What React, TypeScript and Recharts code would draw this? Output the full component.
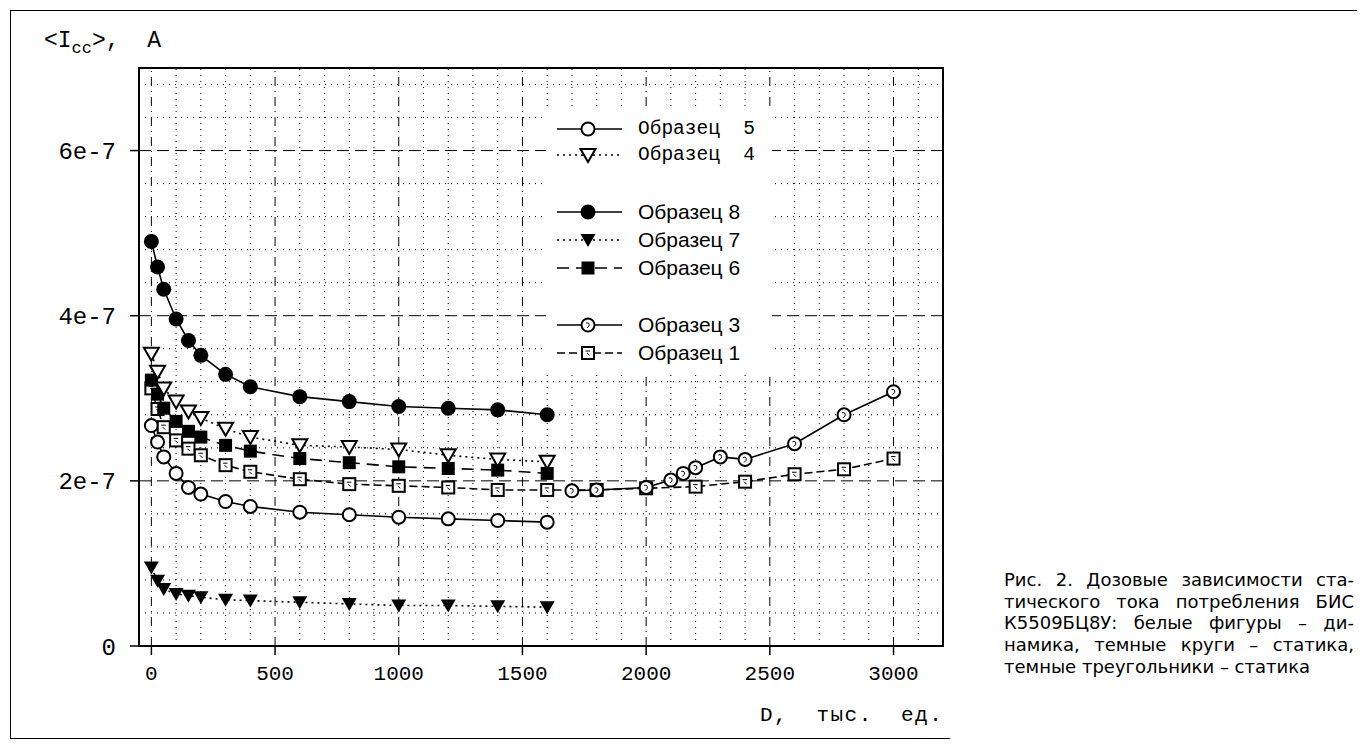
import React from "react";
import { LineChart, Line, XAxis, YAxis, ReferenceLine, ReferenceArea } from "recharts";

// dose, thousand units
const DOSE = [0, 25, 50, 100, 150, 200, 300, 400, 600, 800, 1000, 1200, 1400, 1600];
const DOSE_S1 = [0, 25, 50, 100, 150, 200, 300, 400, 600, 800, 1000, 1200, 1400, 1600, 1800, 2000, 2200, 2400, 2600, 2800, 3000];
const DOSE_S3 = [1700, 1800, 2000, 2100, 2150, 2200, 2300, 2400, 2600, 2800, 3000];

// <Icc>, x1e-7 A
const S5 = [2.67, 2.47, 2.29, 2.09, 1.92, 1.84, 1.75, 1.69, 1.62, 1.59, 1.56, 1.54, 1.52, 1.5];
const S4 = [3.54, 3.32, 3.12, 2.96, 2.84, 2.76, 2.63, 2.53, 2.43, 2.41, 2.38, 2.31, 2.26, 2.23];
const S8 = [4.9, 4.59, 4.32, 3.96, 3.7, 3.52, 3.29, 3.14, 3.02, 2.96, 2.9, 2.88, 2.86, 2.8];
const S7 = [0.95, 0.79, 0.69, 0.63, 0.61, 0.59, 0.56, 0.55, 0.53, 0.51, 0.49, 0.49, 0.48, 0.47];
const S6 = [3.22, 3.05, 2.88, 2.72, 2.6, 2.53, 2.43, 2.36, 2.27, 2.22, 2.17, 2.15, 2.13, 2.09];
const S3 = [1.88, 1.89, 1.92, 2.01, 2.09, 2.16, 2.29, 2.26, 2.45, 2.8, 3.08];
const S1 = [3.12, 2.87, 2.65, 2.49, 2.39, 2.31, 2.19, 2.11, 2.02, 1.96, 1.94, 1.92, 1.89, 1.89, 1.89, 1.91, 1.93, 1.99, 2.08, 2.14, 2.27];

const X_TICKS = [0, 500, 1000, 1500, 2000, 2500, 3000];
const Y_TICKS = [0, 2, 4, 6];
const X_MINOR = Array.from({ length: 31 }, (_, i) => (i + 1) * 100).filter((v) => v % 500 !== 0);
const Y_MINOR = Array.from({ length: 17 }, (_, i) => Math.round((i + 1) * 4) / 10).filter((v) => v % 2 !== 0);

const LEGEND = [
  { key: "s5", label: "Образец  5", mono: true, dash: undefined, top: 109 },
  { key: "s4", label: "Образец  4", mono: true, dash: "2 4", top: 135 },
  { key: "s8", label: "Образец 8", mono: false, dash: undefined, top: 192 },
  { key: "s7", label: "Образец 7", mono: false, dash: "2 4", top: 220 },
  { key: "s6", label: "Образец 6", mono: false, dash: "12 7", top: 248 },
  { key: "s3", label: "Образец 3", mono: false, dash: undefined, top: 305 },
  { key: "s1", label: "Образец 1", mono: false, dash: "8 4", top: 333 },
];

const CAPTION = [
  "Рис. 2. Дозовые зависимости ста-",
  "тического тока потребления БИС",
  "К5509БЦ8У: белые фигуры – ди-",
  "намика, темные круги – статика,",
  "темные треугольники – статика",
];

const zip = (xs: number[], ys: number[]) => xs.map((x, i) => ({ x, y: ys[i] }));

function marker(kind: string, cx: number, cy: number, key?: React.Key) {
  switch (kind) {
    case "s5":
      return <circle key={key} cx={cx} cy={cy} r={6.5} fill="#fff" stroke="#000" strokeWidth={2} />;
    case "s4":
      return (
        <path key={key} d={`M${cx - 7.5},${cy - 6} L${cx + 7.5},${cy - 6} L${cx},${cy + 7} Z`} fill="#fff" stroke="#000" strokeWidth={2} />
      );
    case "s8":
      return <circle key={key} cx={cx} cy={cy} r={7.5} fill="#000" />;
    case "s7":
      return <path key={key} d={`M${cx - 7.5},${cy - 6} L${cx + 7.5},${cy - 6} L${cx},${cy + 7} Z`} fill="#000" />;
    case "s6":
      return <rect key={key} x={cx - 6.5} y={cy - 6.5} width={13} height={13} fill="#000" />;
    case "s3":
      return (
        <g key={key}>
          <circle cx={cx} cy={cy} r={6.5} fill="#fff" stroke="#000" strokeWidth={2} />
          <path d={`M${cx - 2},${cy - 2} Q${cx + 2},${cy - 3} ${cx + 1},${cy + 1} L${cx - 1},${cy + 3}`} fill="none" stroke="#000" strokeWidth={1} />
        </g>
      );
    default:
      return (
        <g key={key}>
          <rect x={cx - 6} y={cy - 6} width={12} height={12} fill="#fff" stroke="#000" strokeWidth={2} />
          <path d={`M${cx - 2.5},${cy - 2} L${cx + 2},${cy - 2} M${cx - 1},${cy} L${cx + 1.5},${cy + 2.5}`} fill="none" stroke="#000" strokeWidth={1} />
        </g>
      );
  }
}

const dot = (kind: string) => (p: any) => marker(kind, p.cx, p.cy, `${kind}-${p.index}`);

const mono = "'Liberation Mono', 'DejaVu Sans Mono', monospace";

export default function App() {
  const series = [
    { key: "s7", data: zip(DOSE, S7), dash: "2 4" },
    { key: "s5", data: zip(DOSE, S5), dash: undefined },
    { key: "s1", data: zip(DOSE_S1, S1), dash: "8 4" },
    { key: "s3", data: zip(DOSE_S3, S3), dash: undefined },
    { key: "s6", data: zip(DOSE, S6), dash: "12 7" },
    { key: "s4", data: zip(DOSE, S4), dash: "2 4" },
    { key: "s8", data: zip(DOSE, S8), dash: undefined },
  ];

  return (
    <div style={{ position: "relative", width: 1349, height: 733, background: "#fff" }}>
      {/* outer frame */}
      <div style={{ position: "absolute", left: 2, top: 2, width: 1355, height: 0, borderTop: "1.5px solid #000" }} />
      <div style={{ position: "absolute", left: 2, top: 2, width: 0, height: 728, borderLeft: "1.5px solid #000" }} />
      <div style={{ position: "absolute", left: 2, top: 730, width: 940, height: 0, borderTop: "1.5px solid #000" }} />

      <div style={{ position: "absolute", left: 36, top: 20, fontFamily: mono, fontSize: 23, lineHeight: "26px", color: "#000", whiteSpace: "pre" }}>
        &lt;I<sub style={{ fontSize: 17, lineHeight: 0 }}>cc</sub>&gt;,  A
      </div>

      <LineChart width={960} height={720} data={[]} margin={{ top: 60, right: 25, left: 31, bottom: 42 }} style={{ position: "absolute", left: 0, top: 0 }}>
        <XAxis
          type="number"
          dataKey="x"
          domain={[-50, 3200]}
          allowDataOverflow
          ticks={X_TICKS}
          axisLine={false}
          tickSize={9}
          tickMargin={10}
          tickLine={{ stroke: "#000", strokeWidth: 1.5 }}
          tick={{ fontFamily: mono, fontSize: 21, fill: "#000" }}
          height={40}
        />
        <YAxis
          type="number"
          dataKey="y"
          domain={[0, 7]}
          allowDataOverflow
          ticks={Y_TICKS}
          axisLine={false}
          tickSize={9}
          tickMargin={14}
          tickLine={{ stroke: "#000", strokeWidth: 1.5 }}
          tick={{ fontFamily: mono, fontSize: 24, fill: "#000" }}
          tickFormatter={(v: number) => (v === 0 ? "0" : `${v}e-7`)}
          width={100}
        />
        {X_MINOR.map((v) => (
          <ReferenceLine key={`xm${v}`} x={v} stroke="#000" strokeWidth={1} strokeDasharray="1 5" />
        ))}
        {Y_MINOR.map((v) => (
          <ReferenceLine key={`ym${v}`} y={v} stroke="#000" strokeWidth={1} strokeDasharray="1 5" />
        ))}
        {X_TICKS.map((v) => (
          <ReferenceLine key={`xM${v}`} x={v} stroke="#000" strokeWidth={1} strokeDasharray="9 5 1 5" />
        ))}
        {Y_TICKS.filter((v) => v > 0).map((v) => (
          <ReferenceLine key={`yM${v}`} y={v} stroke="#000" strokeWidth={1} strokeDasharray="12 6" />
        ))}
        <ReferenceArea x1={-50} x2={3200} y1={0} y2={7} fill="none" stroke="#000" strokeWidth={2} />
        {series.map((s) => (
          <Line
            key={s.key}
            data={s.data}
            dataKey="y"
            stroke="#000"
            strokeWidth={1.6}
            strokeDasharray={s.dash}
            dot={dot(s.key)}
            activeDot={false}
            isAnimationActive={false}
          />
        ))}
      </LineChart>

      {/* legend box */}
      <div style={{ position: "absolute", left: 538, top: 100, width: 226, height: 264, background: "#fff" }} />
      {LEGEND.map((l) => (
        <div key={l.key} style={{ position: "absolute", left: 548, top: l.top, height: 24, display: "flex", alignItems: "center" }}>
          <svg width={70} height={24}>
            <line x1={1} y1={12} x2={66} y2={12} stroke="#000" strokeWidth={1.6} strokeDasharray={l.dash} />
            {marker(l.key, 32, 12)}
          </svg>
          <span
            style={{
              marginLeft: 12,
              fontFamily: l.mono ? mono : "'Liberation Sans', Arial, sans-serif",
              fontSize: l.mono ? 19.5 : 21,
              whiteSpace: "pre",
              color: "#000",
            }}
          >
            {l.label}
          </span>
        </div>
      ))}

      <div style={{ position: "absolute", left: 752, top: 696, fontFamily: mono, fontSize: 21, letterSpacing: 1.5, color: "#000", whiteSpace: "pre" }}>
        D,  тыс.  ед.
      </div>

      <div
        style={{
          position: "absolute",
          left: 996,
          top: 561,
          width: 350,
          fontFamily: "'DejaVu Sans', Verdana, sans-serif",
          fontSize: 18,
          lineHeight: "21.7px",
          color: "#000",
        }}
      >
        {CAPTION.map((line, i) => (
          <div key={i} style={{ whiteSpace: "nowrap", textAlign: i < CAPTION.length - 1 ? "justify" : "left", textAlignLast: i < CAPTION.length - 1 ? "justify" : "left" }}>
            {line}
          </div>
        ))}
      </div>
    </div>
  );
}
